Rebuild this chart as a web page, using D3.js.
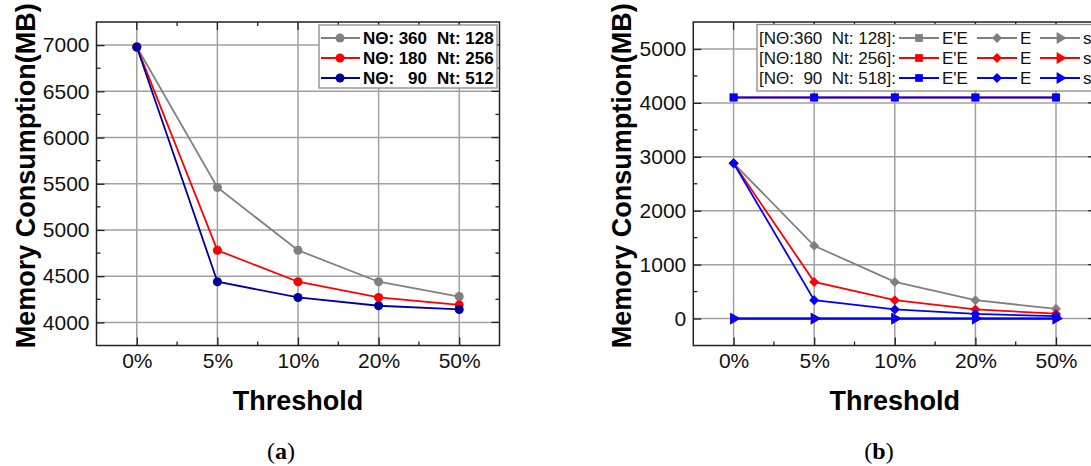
<!DOCTYPE html>
<html>
<head>
<meta charset="utf-8">
<script src="https://cdn.jsdelivr.net/npm/d3@7"></script>
<style>
  body { margin: 0; background: #fff; }
  svg { display: block; font-family: "Liberation Sans", Arial, sans-serif; }
  .grid line { stroke: #a0a0a0; stroke-width: 1.5; }
  .frame { fill: none; stroke: #222; stroke-width: 1.5; }
  .tickLbl { font-size: 21px; fill: #111; }
  .title { font-size: 27px; font-weight: bold; fill: #000; }
</style>
</head>
<body>
<svg id="myGraph" width="1091" height="466"></svg>
<script>
// categories on the x axis
var categories = ["0%", "5%", "10%", "20%", "50%"]

// panel (a) series
var aNames = ["360", "180", "90"]
var aNt = ["128", "256", "512"]
var aGray = [6980, 5460, 4780, 4440, 4280]
var aRed = [6980, 4780, 4440, 4270, 4190]
var aBlue = [6980, 4440, 4270, 4180, 4140]
var aTicks = [4000, 4500, 5000, 5500, 6000, 6500, 7000]

// panel (b) series
var bLegend = ["[NΘ:360  Nt: 128]:", "[NΘ:180  Nt: 256]:", "[NΘ:  90  Nt: 518]:"]
var bEEGray = [4100, 4100, 4100, 4100, 4100]
var bEERed = [4100, 4100, 4100, 4100, 4100]
var bEEBlue = [4100, 4100, 4100, 4100, 4100]
var bEGray = [2880, 1350, 680, 340, 180]
var bERed = [2880, 680, 340, 170, 90]
var bEBlue = [2880, 340, 170, 85, 45]
var bSGray = [0, 0, 0, 0, 0]
var bSRed = [0, 0, 0, 0, 0]
var bSBlue = [0, 0, 0, 0, 0]
var bTicks = [0, 1000, 2000, 3000, 4000, 5000]

var svg = d3.select("#myGraph")

// 패널 하나 그리기 (축, 그리드, 프레임)
function drawPanel(left, right, top, bottom, yDomain, yTicks, minorStep) {
	var x = d3.scalePoint().domain(categories).range([left, right]).padding(0.5)
	var y = d3.scaleLinear().domain(yDomain).range([bottom, top])
	var g = svg.append("g")
	var step = x.step()

	// grid
	var grid = g.append("g").attr("class", "grid")
	grid.selectAll(".gx").data(categories).enter().append("line")
		.attr("x1", function(d) { return x(d) }).attr("x2", function(d) { return x(d) })
		.attr("y1", top).attr("y2", bottom)
	grid.selectAll(".gy").data(yTicks).enter().append("line")
		.attr("x1", left).attr("x2", right)
		.attr("y1", function(d) { return y(d) }).attr("y2", function(d) { return y(d) })

	// x axis (ticks inside), labels
	var halfTicks = categories.map(function(c) { return x(c) + step / 2 }).slice(0, 4)
	g.append("g")
		.attr("transform", "translate(0," + bottom + ")")
		.call(d3.axisBottom(x).tickSizeInner(-8).tickSizeOuter(0).tickPadding(8))
		.call(function(a) {
			a.select(".domain").remove()
			a.selectAll("line").attr("stroke", "#222").attr("stroke-width", 1.3)
			a.selectAll("text").attr("class", "tickLbl").attr("font-size", null).attr("font-family", null)
		})
	var xt = g.append("g")
	categories.forEach(function(c) {
		xt.append("line").attr("x1", x(c)).attr("x2", x(c)).attr("y1", top).attr("y2", top + 8)
	})
	halfTicks.forEach(function(h) {
		xt.append("line").attr("x1", h).attr("x2", h).attr("y1", bottom).attr("y2", bottom - 4)
		xt.append("line").attr("x1", h).attr("x2", h).attr("y1", top).attr("y2", top + 4)
	})
	xt.selectAll("line").attr("stroke", "#222").attr("stroke-width", 1.3)

	// y axis
	g.append("g")
		.attr("transform", "translate(" + left + ",0)")
		.call(d3.axisLeft(y).tickValues(yTicks).tickSizeInner(-8).tickSizeOuter(0).tickPadding(7).tickFormat(d3.format("d")))
		.call(function(a) {
			a.select(".domain").remove()
			a.selectAll("line").attr("stroke", "#222").attr("stroke-width", 1.3)
			a.selectAll("text").attr("class", "tickLbl").attr("font-size", null).attr("font-family", null)
		})
	var yt = g.append("g")
	var minors = d3.range(yDomain[0], yDomain[1] + 1, minorStep).filter(function(v) { return yTicks.indexOf(v) < 0 && v > yDomain[0] && v < yDomain[1] })
	minors.forEach(function(v) {
		yt.append("line").attr("x1", left).attr("x2", left + 4).attr("y1", y(v)).attr("y2", y(v))
		yt.append("line").attr("x1", right).attr("x2", right - 4).attr("y1", y(v)).attr("y2", y(v))
	})
	yTicks.forEach(function(v) {
		yt.append("line").attr("x1", right).attr("x2", right - 8).attr("y1", y(v)).attr("y2", y(v))
	})
	yt.selectAll("line").attr("stroke", "#222").attr("stroke-width", 1.3)

	// frame
	g.append("rect").attr("class", "frame")
		.attr("x", left).attr("y", top).attr("width", right - left).attr("height", bottom - top)

	// axis titles
	g.append("text").attr("class", "title")
		.attr("text-anchor", "middle")
		.attr("x", (left + right) / 2).attr("y", 410)
		.text("Threshold")
	g.append("text").attr("class", "title")
		.attr("text-anchor", "middle")
		.attr("transform", "translate(" + (left - 62) + "," + ((top + bottom) / 2 - 8) + ") rotate(-90)")
		.text("Memory Consumption(MB)")

	return { x: x, y: y, g: g }
}

// 선 + 마커
function drawSeries(p, values, color, symbol, size, rot, lw) {
	var line = d3.line()
		.x(function(d, i) { return p.x(categories[i]) })
		.y(function(d) { return p.y(d) })
	p.g.append("path").datum(values)
		.attr("d", line).attr("fill", "none")
		.attr("stroke", color).attr("stroke-width", lw || 1.8)
	p.g.selectAll(null).data(values).enter().append("path")
		.attr("d", d3.symbol().type(symbol).size(size))
		.attr("transform", function(d, i) { return "translate(" + p.x(categories[i]) + "," + p.y(d) + ") rotate(" + rot + ")" })
		.attr("fill", color)
}

// ---------- panel (a)
var pa = drawPanel(96.5, 499.5, 22, 345.5, [3750, 7250], aTicks, 250)
var aColors = ["#808080", "#ff0000", "#00009c"]
var aSets = [aGray, aRed, aBlue]
aSets.forEach(function(s, i) { drawSeries(pa, s, aColors[i], d3.symbolCircle, 64, 0) })

// legend (a)
var la = svg.append("g")
la.append("rect").attr("x", 319).attr("y", 25).attr("width", 178).attr("height", 63)
	.attr("fill", "#fff").attr("stroke", "#888").attr("stroke-width", 1.3)
aNames.forEach(function(n, i) {
	var yy = 38 + i * 20
	la.append("line").attr("x1", 321).attr("x2", 360).attr("y1", yy).attr("y2", yy)
		.attr("stroke", aColors[i]).attr("stroke-width", 1.8)
	la.append("circle").attr("cx", 340).attr("cy", yy).attr("r", 4.5).attr("fill", aColors[i])
	var t = la.append("g").attr("font-size", "17px").attr("font-weight", "bold")
	t.append("text").attr("x", 363).attr("y", yy + 6).text("NΘ:")
	t.append("text").attr("x", 427).attr("y", yy + 6).attr("text-anchor", "end").text(n)
	t.append("text").attr("x", 437).attr("y", yy + 6).text("Nt: " + aNt[i])
})

// ---------- panel (b)
var pb = drawPanel(693.3, 1096.3, 22, 345.5, [-500, 5500], bTicks, 500)
var bColors = ["#808080", "#ff0000", "#0000ff"]
var bEE = [bEEGray, bEERed, bEEBlue]
var bE = [bEGray, bERed, bEBlue]
var bS = [bSGray, bSRed, bSBlue]
for (var i = 0; i < 3; i++) {
	// 겹치는 E'E 선은 파란색이 완전히 덮도록
	drawSeries(pb, bEE[i], bColors[i], d3.symbolSquare, 60, 0, i == 2 ? 2.2 : 1.4)
	drawSeries(pb, bE[i], bColors[i], d3.symbolSquare, 50, 45)
	drawSeries(pb, bS[i], bColors[i], d3.symbolTriangle, 60, 90, i == 2 ? 2.2 : 1.4)
}

// legend (b)
var lb = svg.append("g")
lb.append("rect").attr("x", 757).attr("y", 24.5).attr("width", 360).attr("height", 66.5)
	.attr("fill", "#fff").attr("stroke", "#888").attr("stroke-width", 1.3)
var bSyms = [[d3.symbolSquare, 60, 0, "E'E"], [d3.symbolSquare, 50, 45, "E"], [d3.symbolTriangle, 60, 90, "s"]]
var bLegX = [899, 977, 1040]
bLegend.forEach(function(lbl, i) {
	var yy = 38 + i * 20
	lb.append("text").attr("x", 759).attr("y", yy + 6)
		.attr("font-size", "17px").style("white-space", "pre").attr("fill", "#111")
		.text(lbl)
	bSyms.forEach(function(s, j) {
		var x0 = bLegX[j]
		lb.append("line").attr("x1", x0).attr("x2", x0 + 40).attr("y1", yy).attr("y2", yy)
			.attr("stroke", bColors[i]).attr("stroke-width", 1.8)
		lb.append("path").attr("d", d3.symbol().type(s[0]).size(s[1]))
			.attr("transform", "translate(" + (x0 + 20) + "," + yy + ") rotate(" + s[2] + ")")
			.attr("fill", bColors[i])
		lb.append("text").attr("x", x0 + 43).attr("y", yy + 6)
			.attr("font-size", "17px").attr("fill", "#111").text(s[3])
	})
})

// 패널 라벨
svg.append("text").attr("x", 281).attr("y", 459).attr("text-anchor", "middle")
	.attr("font-family", "Liberation Serif, serif").attr("font-size", "24px")
	.html("(<tspan font-weight='bold'>a</tspan>)")
svg.append("text").attr("x", 879).attr("y", 459).attr("text-anchor", "middle")
	.attr("font-family", "Liberation Serif, serif").attr("font-size", "24px")
	.html("(<tspan font-weight='bold'>b</tspan>)")
</script>
</body>
</html>
